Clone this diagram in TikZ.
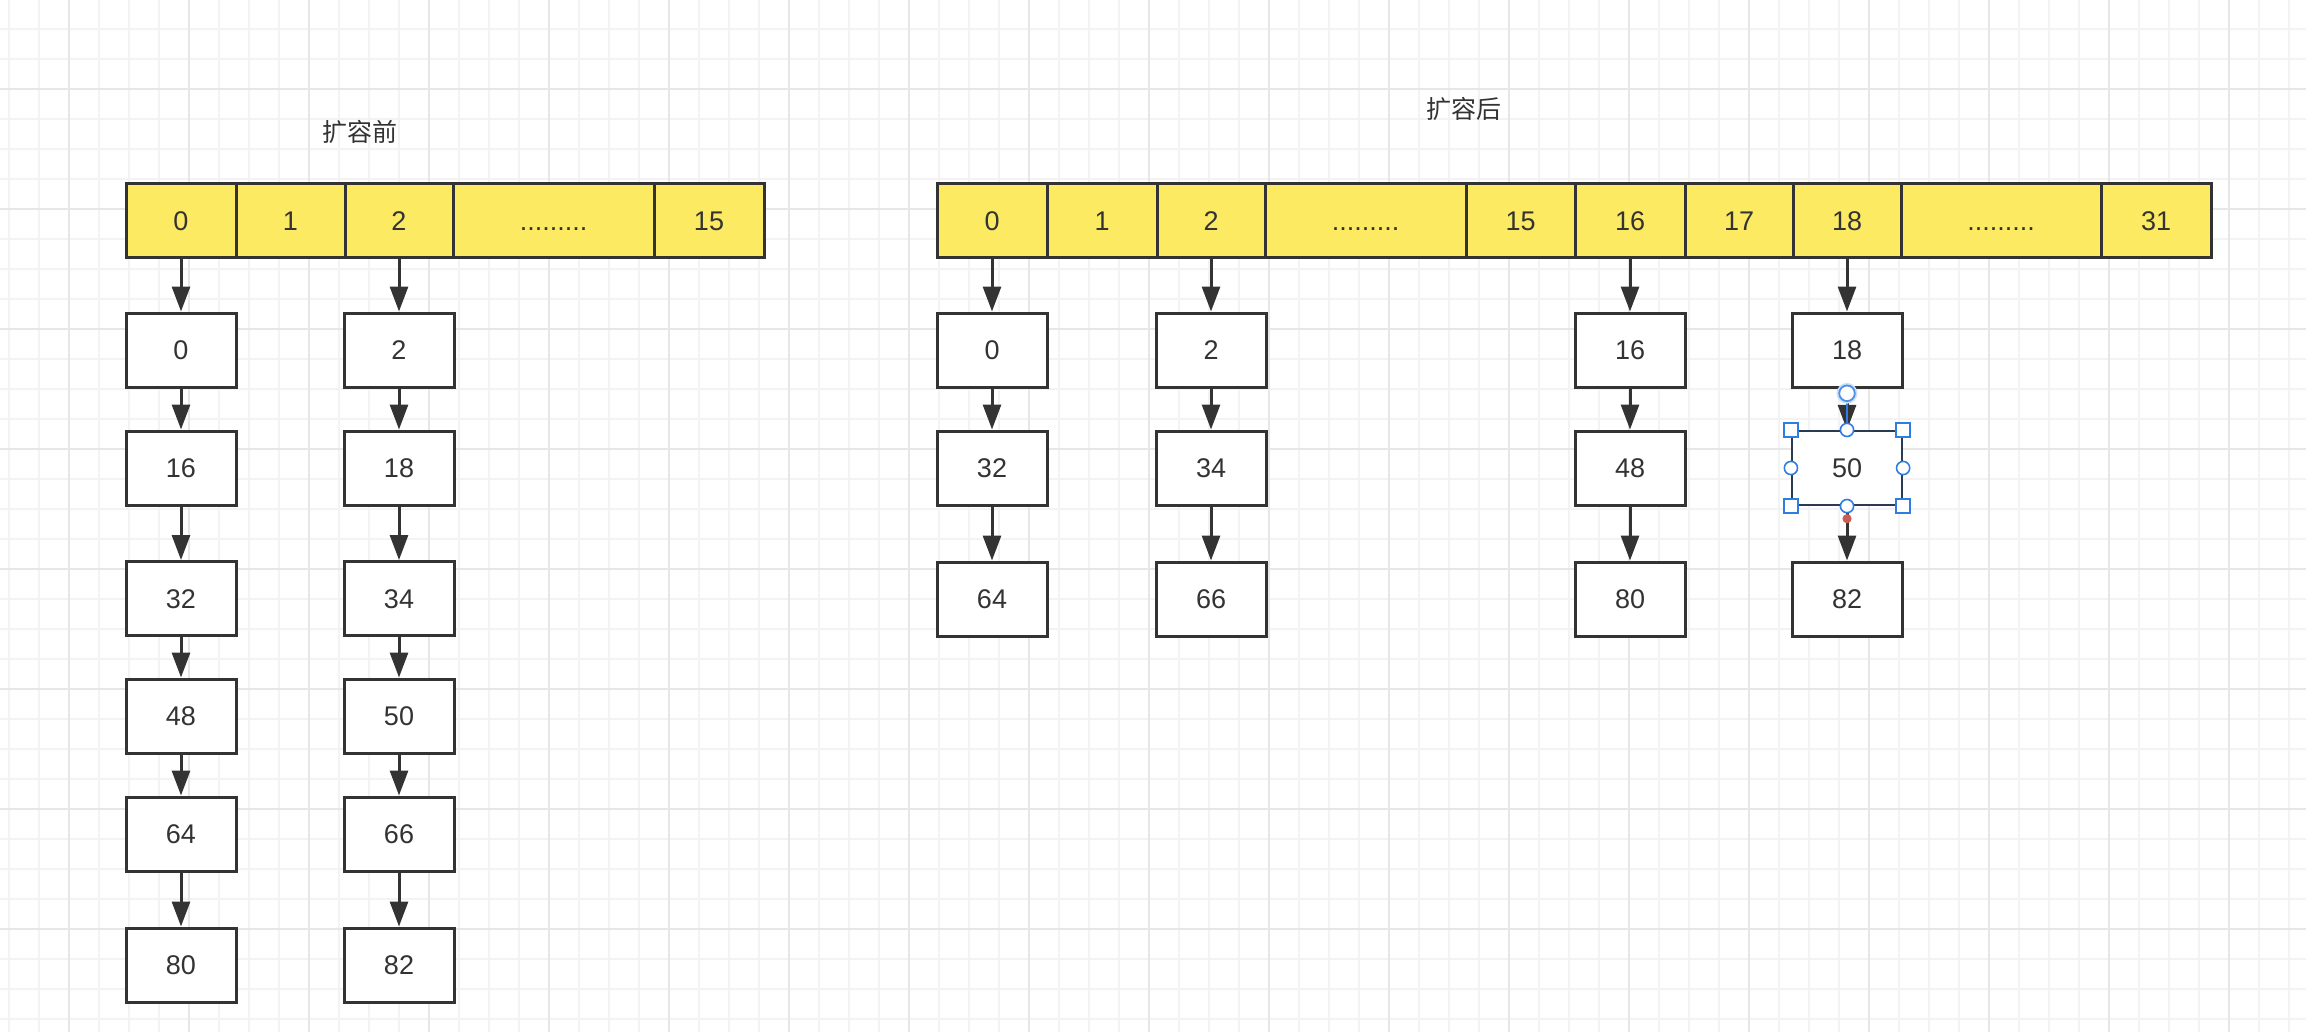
\documentclass[tikz,border=0pt]{standalone}
\usepackage{fontspec}
\setmainfont{Liberation Sans}
\newfontfamily\cjk{Noto Sans CJK SC}
\usetikzlibrary{arrows.meta}
\definecolor{ink}{HTML}{333333}
\definecolor{cellyellow}{HTML}{FCEA63}
\definecolor{gridminor}{HTML}{F3F3F3}
\definecolor{gridmajor}{HTML}{E7E7E7}
\definecolor{selblue}{HTML}{2F7DE1}
\definecolor{seledge}{HTML}{2B3A52}
\definecolor{reddot}{HTML}{CD5C55}
\begin{document}
\begin{tikzpicture}[x=0.5pt,y=-0.5pt,
  every node/.style={font=\fontsize{13.5pt}{16pt}\selectfont, text=ink},
  arr/.style={draw=ink, line width=1.5pt, -{Triangle[length=12.5pt,width=9pt]}},
  cell/.style={draw=ink, line width=1.5pt, fill=cellyellow, minimum height=37pt, text height=9.7pt, text depth=0pt, inner sep=0pt},
  box/.style={draw=ink, line width=1.5pt, fill=white, minimum width=55pt, minimum height=37pt, text height=9.7pt, text depth=0pt, inner sep=0pt},
  selbox/.style={box, draw=seledge, line width=1.1pt},
  title/.style={font=\cjk\fontsize{12.5pt}{15pt}\selectfont},
  handlesq/.style={draw=selblue, line width=0.8pt, fill=white},
  handlec/.style={draw=selblue, line width=0.8pt, fill=white}
]
\fill[white] (0,0) rectangle (2306,1032);
\useasboundingbox (0,0) rectangle (2306,1032);
% background grid
\foreach \x in {9,39,...,2305} \draw[gridminor, line width=1pt] (\x,0) -- (\x,1032);
\foreach \y in {29,59,...,1031} \draw[gridminor, line width=1pt] (0,\y) -- (2306,\y);
\foreach \x in {69,189,...,2305} \draw[gridmajor, line width=1pt] (\x,0) -- (\x,1032);
\foreach \y in {89,209,...,1031} \draw[gridmajor, line width=1pt] (0,\y) -- (2306,\y);

% titles
\node[title] (t1) at (360,132) {扩容前};
\node[title] (t2) at (1464,109) {扩容后};

% left array
\node[cell, minimum width=55pt]   (L0)  at (181,221)   {0};
\node[cell, minimum width=54.5pt] (L1)  at (290.5,221) {1};
\node[cell, minimum width=54pt]   (L2)  at (399,221)   {2};
\node[cell, minimum width=100.5pt](Ld)  at (553.5,221) {.........};
\node[cell, minimum width=55pt]   (L15) at (709,221)   {15};

% left chains
\node[box] (a0)  at (181,350)   {0};
\node[box] (a16) at (181,468)   {16};
\node[box] (a32) at (181,598.5) {32};
\node[box] (a48) at (181,716)   {48};
\node[box] (a64) at (181,834)   {64};
\node[box] (a80) at (181,965)   {80};
\node[box] (b2)  at (399,350)   {2};
\node[box] (b18) at (399,468)   {18};
\node[box] (b34) at (399,598.5) {34};
\node[box] (b50) at (399,716)   {50};
\node[box] (b66) at (399,834)   {66};
\node[box] (b82) at (399,965)   {82};

\draw[arr] (L0) -- (a0);
\draw[arr] (a0) -- (a16);
\draw[arr] (a16) -- (a32);
\draw[arr] (a32) -- (a48);
\draw[arr] (a48) -- (a64);
\draw[arr] (a64) -- (a80);
\draw[arr] (L2) -- (b2);
\draw[arr] (b2) -- (b18);
\draw[arr] (b18) -- (b34);
\draw[arr] (b34) -- (b50);
\draw[arr] (b50) -- (b66);
\draw[arr] (b66) -- (b82);

% right array
\node[cell, minimum width=55pt]   (R0)  at (992,221)    {0};
\node[cell, minimum width=55pt]   (R1)  at (1102,221)   {1};
\node[cell, minimum width=54pt]   (R2)  at (1211,221)   {2};
\node[cell, minimum width=100.5pt](Rd1) at (1365.5,221) {.........};
\node[cell, minimum width=54.5pt] (R15) at (1520.5,221) {15};
\node[cell, minimum width=55pt]   (R16) at (1630,221)   {16};
\node[cell, minimum width=54pt]   (R17) at (1739,221)   {17};
\node[cell, minimum width=54pt]   (R18) at (1847,221)   {18};
\node[cell, minimum width=100pt]  (Rd2) at (2001,221)   {.........};
\node[cell, minimum width=55pt]   (R31) at (2156,221)   {31};

% right chains
\node[box] (c0)  at (992,350)  {0};
\node[box] (c32) at (992,468)  {32};
\node[box] (c64) at (992,599)  {64};
\node[box] (d2)  at (1211,350) {2};
\node[box] (d34) at (1211,468) {34};
\node[box] (d66) at (1211,599) {66};
\node[box] (e16) at (1630,350) {16};
\node[box] (e48) at (1630,468) {48};
\node[box] (e80) at (1630,599) {80};
\node[box] (f18) at (1847,350) {18};
\node[selbox] (f50) at (1847,468) {50};
\node[box] (f82) at (1847,599) {82};

\draw[arr] (R0) -- (c0);
\draw[arr] (c0) -- (c32);
\draw[arr] (c32) -- (c64);
\draw[arr] (R2) -- (d2);
\draw[arr] (d2) -- (d34);
\draw[arr] (d34) -- (d66);
\draw[arr] (R16) -- (e16);
\draw[arr] (e16) -- (e48);
\draw[arr] (e48) -- (e80);
\draw[arr] (R18) -- (f18);
\draw[arr] (f18) -- (f50);
\draw[arr] (f50) -- (f82);

% selection decorations
\draw[selblue, line width=0.8pt] (f18.south) -- (f50.north);
\fill[selblue!25] (f18.south) ++(0,-2.4pt) circle[radius=5.2pt];
\draw[selblue!85, line width=0.9pt, fill=white] (f18.south) ++(0,-2.4pt) circle[radius=3.9pt];
\foreach \a in {north west, north east, south west, south east}
  \draw[handlesq] (f50.\a) ++(-3.5pt,-3.5pt) rectangle ++(7pt,7pt);
\foreach \a in {north, south, east, west}
  \draw[handlec] (f50.\a) circle[radius=3.3pt];
\fill[reddot] (f50.south) ++(0,-6.3pt) circle[radius=2.3pt];
\end{tikzpicture}
\end{document}
